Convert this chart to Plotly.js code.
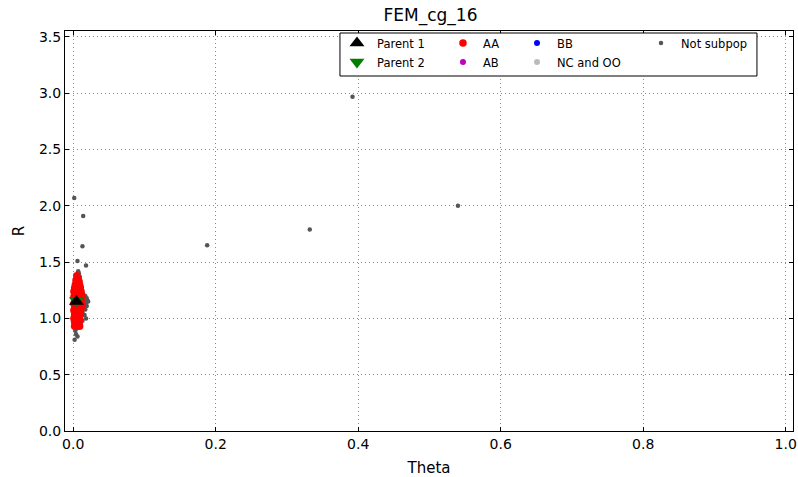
<!DOCTYPE html>
<html>
<head>
<meta charset="utf-8">
<script src="https://cdn.plot.ly/plotly-3.0.1.min.js"></script>
<style>html,body{margin:0;padding:0;background:#fff;}#chart{width:798px;height:477px;}</style>
</head>
<body>
<div id="chart"></div>
<script>
// ---- data ----
const parent1_theta = [0.0045];
const parent1_R = [1.15];
const parent2_theta = [0.0045];
const parent2_R = [1.16];

const AA_theta = [0.005,0.007,0.004,0.008,0.006,0.003,0.009,0.005,0.007,0.002,0.010,0.004,0.006,0.008,0.001,0.011,0.003,0.005,0.009,0.002,0.007,0.012,0.004,0.001,0.010,0.006,0.003,0.008,0.011,0.002,0.005,0.009,0.001,0.007,0.012,0.003,0.010,0.006,0.002,0.008,0.004,0.011,0.001,0.007,0.009,0.003,0.005,0.010,0.002,0.006,0.008,0.004,0.001,0.009,0.003,0.006,0.007,0.002,0.005,0.008,0.003,0.006,0.004,0.007,0.002,0.005,0.009];
const AA_R = [1.38,1.36,1.34,1.33,1.32,1.30,1.30,1.29,1.28,1.27,1.27,1.26,1.25,1.25,1.24,1.24,1.23,1.22,1.22,1.21,1.21,1.20,1.20,1.19,1.19,1.18,1.17,1.17,1.16,1.15,1.15,1.14,1.13,1.13,1.12,1.11,1.11,1.10,1.09,1.09,1.08,1.08,1.07,1.07,1.06,1.05,1.05,1.04,1.03,1.03,1.02,1.01,1.00,1.00,0.99,0.99,0.98,0.97,0.97,0.96,0.95,0.95,0.94,0.94,0.93,0.93,0.93];

const AB_theta = [null];
const AB_R = [null];
const BB_theta = [null];
const BB_R = [null];
const NCOO_theta = [null];
const NCOO_R = [null];

const notsub_theta = [0.392,0.540,0.332,0.188,0.0015,0.014,0.013,0.006,0.018,0.004,0.002,0.006,0.003,0.019,0.020,0.018,0.021,0.017,0.016,0.018,0.013,0.015,0.014,0.012,0.010,0.008,0.007,0.009,0.006,0.015,0.017,0.016,0.013,0.011,0.005,0.008,0.019,0.004];
const notsub_R = [2.97,2.00,1.79,1.65,2.07,1.91,1.64,1.51,1.47,0.86,0.81,0.84,0.89,1.18,1.16,1.13,1.15,1.20,1.03,1.00,1.05,1.10,1.22,1.28,1.33,1.40,1.42,1.37,1.39,1.14,1.08,1.17,0.98,0.96,1.12,1.15,1.11,0.91];

const xTicks = [0.0,0.2,0.4,0.6,0.8,1.0];
const yTicks = [0.0,0.5,1.0,1.5,2.0,2.5,3.0,3.5];

// ---- traces (drawing order: grey, red, green, black) ----
const traces = [
  {name:'Not subpop', x:notsub_theta, y:notsub_R, type:'scatter', mode:'markers',
   marker:{color:'#555555', size:4.5}, legend:'legend4'},
  {name:'AA', x:AA_theta, y:AA_R, type:'scatter', mode:'markers',
   marker:{color:'#ff0000', size:7.5}, legend:'legend2', legendrank:1},
  {name:'AB', x:AB_theta, y:AB_R, type:'scatter', mode:'markers',
   marker:{color:'#bf00bf', size:6}, legend:'legend2', legendrank:2},
  {name:'BB', x:BB_theta, y:BB_R, type:'scatter', mode:'markers',
   marker:{color:'#0000ff', size:6}, legend:'legend3', legendrank:1},
  {name:'NC and OO', x:NCOO_theta, y:NCOO_R, type:'scatter', mode:'markers',
   marker:{color:'#bbbbbb', size:6}, legend:'legend3', legendrank:2},
  {name:'Parent 2', x:parent2_theta, y:parent2_R, type:'scatter', mode:'markers',
   marker:{color:'#007f00', size:13, symbol:'triangle-down'}, legend:'legend', legendrank:2},
  {name:'Parent 1', x:parent1_theta, y:parent1_R, type:'scatter', mode:'markers',
   marker:{color:'#000000', size:13, symbol:'triangle-up'}, legend:'legend', legendrank:1}
];

const axisCommon = {
  showline:true, linecolor:'#000', linewidth:1, mirror:'ticks',
  ticks:'inside', ticklen:4, tickcolor:'#000',
  showgrid:true, gridcolor:'#8a8a8a', griddash:'1px,3px', gridwidth:1,
  zeroline:false, tickfont:{family:'DejaVu Sans', size:14, color:'#000'},
  tickformat:'.1f'
};

function legendAt(xp) {
  return {orientation:'v', x:xp, y:1.006, xanchor:'left', yanchor:'top',
          borderwidth:0, bgcolor:'rgba(0,0,0,0)',
          font:{family:'DejaVu Sans', size:11.5, color:'#000'},
          traceorder:'normal', itemsizing:'trace', tracegroupgap:0};
}

const layout = {
  width:798, height:477,
  margin:{l:65, r:5, t:31, b:46},
  paper_bgcolor:'#fff', plot_bgcolor:'#fff',
  font:{family:'DejaVu Sans', color:'#000'},
  title:{text:'FEM_cg_16', font:{family:'DejaVu Sans', size:17, color:'#000'},
         x:0.5395, xanchor:'center', y:0.968, yanchor:'middle'},
  xaxis:Object.assign({}, axisCommon, {range:[-0.0115,1.0102], tickvals:xTicks,
         title:{text:'Theta', font:{family:'DejaVu Sans', size:15, color:'#000'}, standoff:11}}),
  yaxis:Object.assign({}, axisCommon, {range:[0,3.553], tickvals:yTicks,
         title:{text:'R', font:{family:'DejaVu Sans', size:15, color:'#000'}, standoff:10}}),
  showlegend:true,
  legend:legendAt(0.3736),
  legend2:legendAt(0.5192),
  legend3:legendAt(0.6209),
  legend4:legendAt(0.7912),
  shapes:[{type:'rect', xref:'paper', yref:'paper', x0:0.3777, x1:0.9505, y0:0.8875, y1:0.995,
           line:{color:'#000', width:1}, fillcolor:'#fff', layer:'above'}]
};

Plotly.newPlot('chart', traces, layout, {displayModeBar:false, staticPlot:true});
</script>
</body>
</html>
